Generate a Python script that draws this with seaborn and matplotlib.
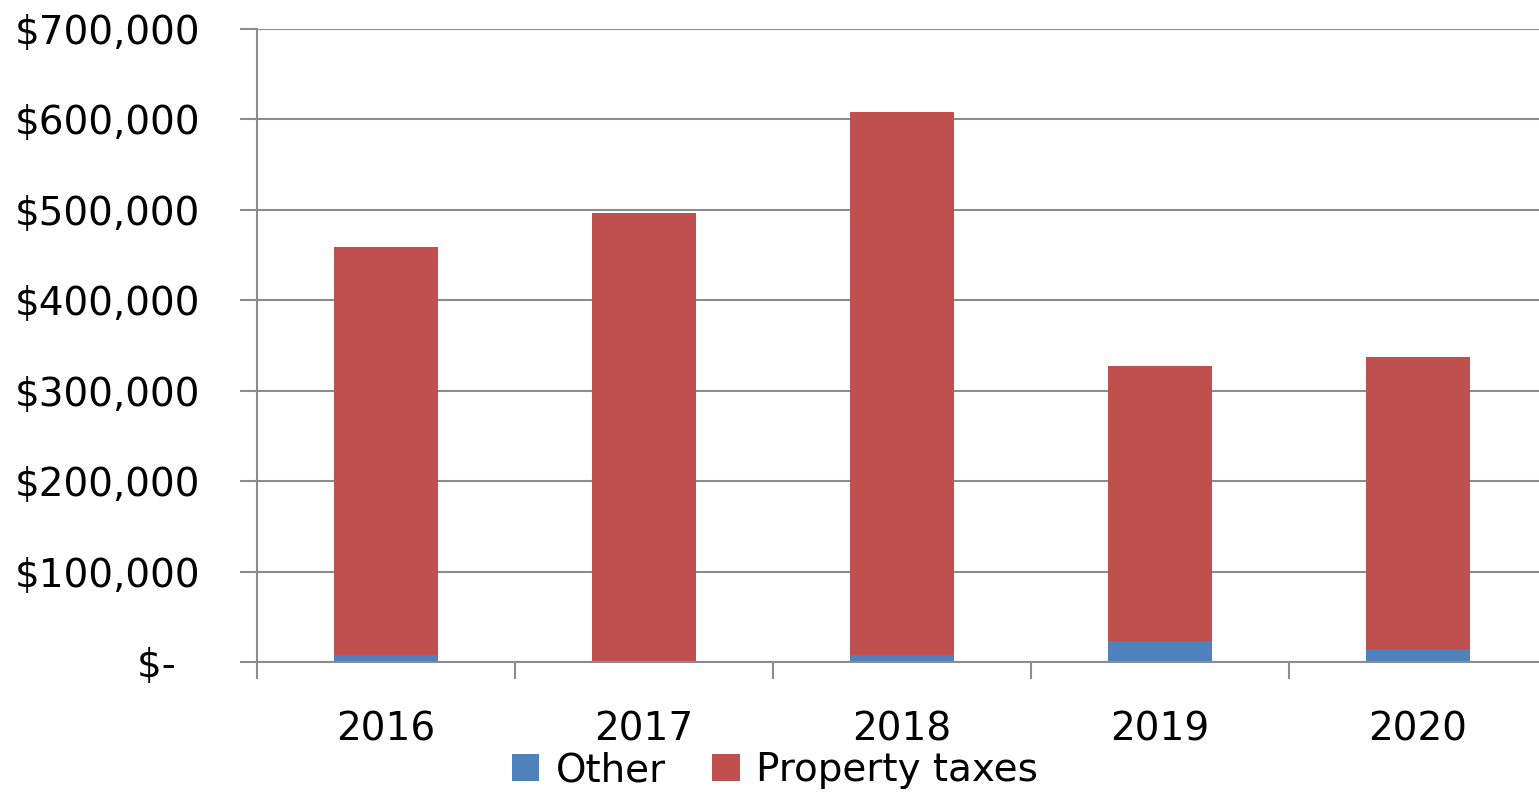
import matplotlib
matplotlib.use("Agg")
import matplotlib.pyplot as plt
import seaborn as sns
import pandas as pd
from matplotlib.ticker import FuncFormatter, FixedLocator
from matplotlib.patches import Patch

years = ["2016", "2017", "2018", "2019", "2020"]
other = [7700, 600, 7700, 23000, 14000]
property_taxes = [451000, 496000, 600000, 304000, 323000]
series_names = ["Other", "Property taxes"]
yticks = [0, 100000, 200000, 300000, 400000, 500000, 600000, 700000]

totals = [o + p for o, p in zip(other, property_taxes)]
df = pd.DataFrame({"year": years, "other": other, "total": totals})

sns.set_theme(style="white")
plt.rcParams["font.family"] = ["DejaVu Sans"]

BLUE = "#4F81BD"
RED = "#C0504D"
GRID = "#8C8C8C"
FS = 28

fig = plt.figure(figsize=(15.39, 7.96), dpi=100)
ax = fig.add_axes([257 / 1539, 1 - 662 / 796, (1547 - 257) / 1539, (662 - 29) / 796])

sns.barplot(data=df, x="year", y="total", color=RED, width=0.4, ax=ax,
            saturation=1, edgecolor="none", linewidth=0)
sns.barplot(data=df, x="year", y="other", color=BLUE, width=0.4, ax=ax,
            saturation=1, edgecolor="none", linewidth=0)

ax.set_xlim(-0.5, 4.5)
ax.set_ylim(0, 700000)
ax.set_xlabel("")
ax.set_ylabel("")

ax.set_yticks(yticks)
ax.yaxis.set_major_formatter(FuncFormatter(lambda v, p: "$-  " if v == 0 else f"${int(v):,}"))
ax.yaxis.grid(True, color=GRID, linewidth=1.5)
ax.set_axisbelow(True)

# x ticks at category boundaries, labels at centers
ax.xaxis.set_major_locator(FixedLocator([-0.5 + i for i in range(6)]))
ax.xaxis.set_major_formatter(FuncFormatter(lambda v, p: ""))
ax.set_xticks(range(len(years)), labels=years, minor=True)
ax.tick_params(axis="x", which="major", length=12, width=1.5, color=GRID, direction="out", bottom=True)
ax.tick_params(axis="x", which="minor", length=0, pad=35, labelsize=FS, labelcolor="black")
ax.tick_params(axis="y", which="major", length=12, width=1.5, color=GRID, direction="out",
               left=True, pad=29, labelsize=FS, labelcolor="black")

for s in ["top", "right"]:
    ax.spines[s].set_visible(False)
for s in ["left", "bottom"]:
    ax.spines[s].set_color(GRID)
    ax.spines[s].set_linewidth(1.5)

handles = [Patch(facecolor=BLUE, edgecolor="none"), Patch(facecolor=RED, edgecolor="none")]
fig.legend(handles, series_names, loc="center", bbox_to_anchor=(775 / 1539, 1 - 770 / 796),
           ncol=2, frameon=False, fontsize=FS, labelcolor="black", handlelength=0.7,
           handleheight=0.7, handletextpad=0.42, columnspacing=1.2, borderaxespad=0)

fig.savefig("out.png", dpi=100)
